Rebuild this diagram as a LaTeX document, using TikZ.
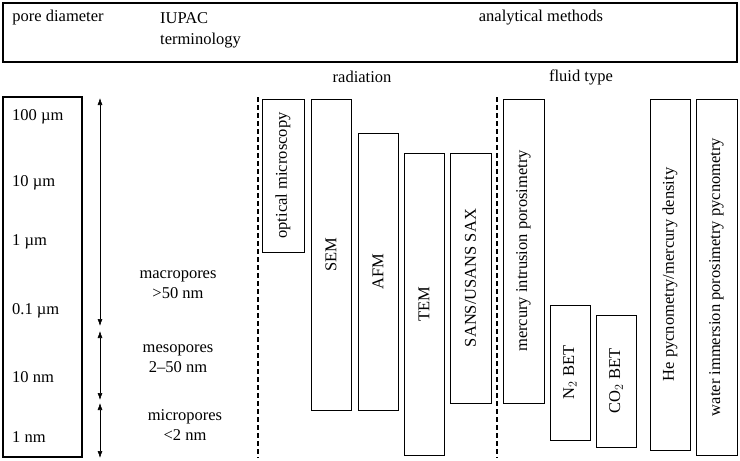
\documentclass[tikz,border=0pt]{standalone}
\usepackage{fontspec}
\setmainfont{Liberation Serif}
\usetikzlibrary{arrows.meta}
\begin{document}
\begin{tikzpicture}[x=1pt,y=-1pt,
  lab/.style={font=\fontsize{16.5}{20}\selectfont, inner sep=0pt},
  meth/.style={draw, line width=0.8pt, rotate=90, font=\fontsize{16.5}{20}\selectfont, inner sep=0pt},
  sep/.style={line width=1.2pt, dash pattern=on 5pt off 3pt},
  arr/.style={-{Latex[length=7pt,width=5pt]}, line width=0.6pt}]
\useasboundingbox (0,0) rectangle (740,461);
\draw[line width=1.2pt] (3,3) rectangle (737,62);
\node[lab] (pd) at (58,18) {pore diameter};
\node[lab, anchor=west] (iu) at (160,18) {IUPAC};
\node[lab, anchor=west] (te) at (160,41) {terminology};
\node[lab] (am) at (541,18) {analytical methods};
\node[lab] (rad) at (362,77) {radiation};
\node[lab] (ft) at (581,77) {fluid type};
\draw[line width=2pt] (3,97) rectangle (82,457);
\foreach \t/\y [count=\i] in {100 µm/117, 10 µm/183, 1 µm/242, 0.1 µm/311, 10 nm/377, 1 nm/437}
  \node[lab, anchor=west] (s\i) at (12,\y) {\t};
\coordinate (a1) at (100,98); \coordinate (a2) at (100,326);
\coordinate (b1) at (100,331); \coordinate (b2) at (100,400);
\coordinate (c1) at (100,403); \coordinate (c2) at (100,458);
\coordinate (am1) at (100,212);
\coordinate (bm) at (100,365);
\coordinate (cm) at (100,430);
\draw[arr] (am1) -- (a1); \draw[arr] (am1) -- (a2);
\draw[arr] (bm) -- (b1); \draw[arr] (bm) -- (b2);
\draw[arr] (cm) -- (c1); \draw[arr] (cm) -- (c2);
\node[lab, align=center] (ma) at (178,285) {macropores\\>50 nm};
\node[lab, align=center] (me) at (178,359) {mesopores\\2–50 nm};
\node[lab, align=center] (mi) at (185,425) {micropores\\<2 nm};
\coordinate (d1) at (258,97); \coordinate (d2) at (258,458);
\coordinate (e1) at (497,97); \coordinate (e2) at (497,458);
\draw[sep] (d1) -- (d2); \draw[sep] (e1) -- (e2);
\newcommand\methbox[6]{\node[meth, minimum width=#4-#3, minimum height=#2-#1] (#5) at ({(#1+#2)/2},{(#3+#4)/2}) {#6};}
\methbox{262}{304}{99}{252}{om}{optical microscopy}
\methbox{311}{351}{99}{410}{sem}{SEM}
\methbox{358}{398}{133}{410}{afm}{AFM}
\methbox{404}{444}{153}{455}{tem}{TEM}
\methbox{450}{491}{153}{403}{sans}{SANS/USANS SAX}
\methbox{503}{544}{99}{403}{mip}{mercury intrusion porosimetry}
\methbox{550}{590}{305}{440}{nb}{N$_2$ BET}
\methbox{596}{636}{315}{447}{cb}{CO$_2$ BET}
\methbox{650}{690}{99}{450}{he}{He pycnometry/mercury density}
\methbox{696}{737}{99}{455}{wi}{water immersion porosimetry pycnometry}
\end{tikzpicture}
\end{document}
